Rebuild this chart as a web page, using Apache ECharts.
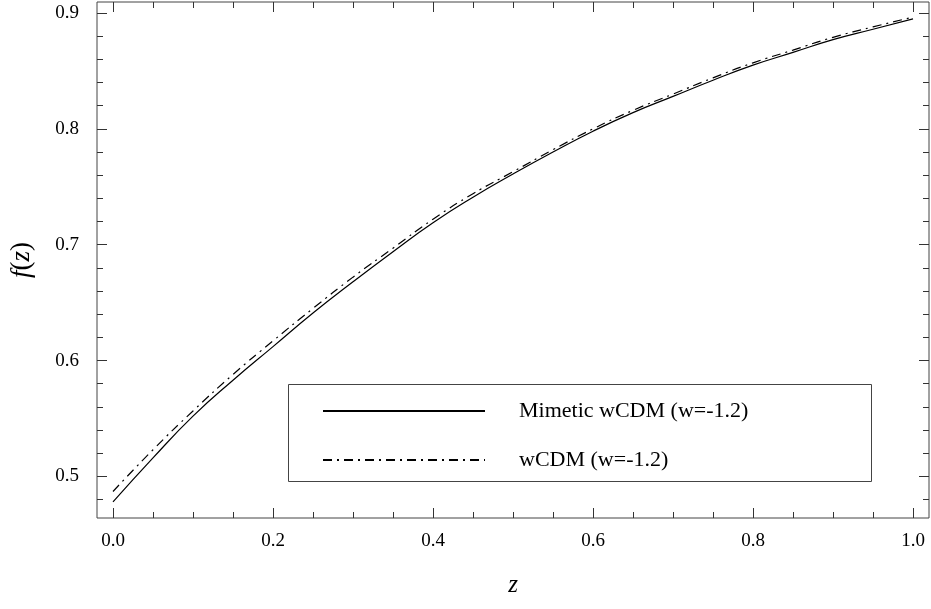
<!DOCTYPE html>
<html>
<head>
<meta charset="utf-8">
<script src="https://cdn.jsdelivr.net/npm/echarts@6/dist/echarts.min.js"></script>
<style>html,body{margin:0;padding:0;background:#fff}#c{width:931px;height:609px}</style>
</head>
<body>
<div id="c"></div>
<script>
var zValues = [0, 0.05, 0.1, 0.15, 0.2, 0.25, 0.3, 0.35, 0.4, 0.45, 0.5, 0.55, 0.6, 0.65, 0.7, 0.75, 0.8, 0.85, 0.9, 0.95, 1.0];
var mimeticValues = [0.478, 0.516, 0.552, 0.583, 0.612, 0.641, 0.668, 0.694, 0.719, 0.741, 0.761, 0.780, 0.798, 0.814, 0.828, 0.842, 0.855, 0.866, 0.877, 0.886, 0.895];
var wcdmValues = [0.487, 0.523, 0.5565, 0.588, 0.617, 0.645, 0.672, 0.697, 0.722, 0.744, 0.763, 0.782, 0.800, 0.816, 0.830, 0.844, 0.857, 0.868, 0.879, 0.888, 0.8965];
var xMajorTicks = [0, 0.2, 0.4, 0.6, 0.8, 1.0];
var xMinorTicks = [0.05, 0.1, 0.15, 0.25, 0.3, 0.35, 0.45, 0.5, 0.55, 0.65, 0.7, 0.75, 0.85, 0.9, 0.95];
var yMajorTicks = [0.5, 0.6, 0.7, 0.8, 0.9];
var yMinorTicks = [0.48, 0.52, 0.54, 0.56, 0.58, 0.62, 0.64, 0.66, 0.68, 0.72, 0.74, 0.76, 0.78, 0.82, 0.84, 0.86, 0.88];
var seriesNames = ['Mimetic wCDM (w=-1.2)', 'wCDM (w=-1.2)'];

function pairs(xs, ys){ return xs.map(function(x,i){ return [x, ys[i]]; }); }

var FONT = '"Liberation Serif", "DejaVu Serif", serif';
var xMin = -0.02, xMax = 1.02, yMin = 0.4641, yMax = 0.9095;
var tickColor = '#333';

function xAxisDef(pos, ticks, len, labels) {
  return {
    type: 'value', position: pos, min: xMin, max: xMax,
    axisLine: { show: false, onZero: false },
    splitLine: { show: false },
    axisTick: { show: true, inside: true, length: len, customValues: ticks, lineStyle: { color: tickColor, width: 1 } },
    axisLabel: labels ? { show: true, customValues: ticks, margin: 14, fontFamily: FONT, fontSize: 19, color: '#000',
      formatter: function(v){ return v.toFixed(1); } } : { show: false }
  };
}
function yAxisDef(pos, ticks, len, labels) {
  return {
    type: 'value', position: pos, min: yMin, max: yMax,
    axisLine: { show: false, onZero: false },
    splitLine: { show: false },
    axisTick: { show: true, inside: true, length: len, customValues: ticks, lineStyle: { color: tickColor, width: 1 } },
    axisLabel: labels ? { show: true, customValues: ticks, margin: 18, fontFamily: FONT, fontSize: 19, color: '#000',
      formatter: function(v){ return v.toFixed(1); } } : { show: false }
  };
}

var xAxes = [
  xAxisDef('bottom', xMajorTicks, 10, true),
  xAxisDef('bottom', xMinorTicks, 6, false),
  xAxisDef('top', xMajorTicks, 10, false),
  xAxisDef('top', xMinorTicks, 6, false)
];
xAxes[0].name = 'z';
xAxes[0].nameLocation = 'middle';
xAxes[0].nameGap = 55;
xAxes[0].nameTextStyle = { fontFamily: FONT, fontSize: 25, fontStyle: 'italic', color: '#000' };

var yAxes = [
  yAxisDef('left', yMajorTicks, 10, true),
  yAxisDef('left', yMinorTicks, 6, false),
  yAxisDef('right', yMajorTicks, 10, false),
  yAxisDef('right', yMinorTicks, 6, false)
];
yAxes[0].name = '{i|f}{n|(}{i|z}{n|)}';
yAxes[0].nameLocation = 'middle';
yAxes[0].nameGap = 62;
yAxes[0].nameTextStyle = { color: '#000', rich: {
  i: { fontFamily: FONT, fontSize: 27, fontStyle: 'italic', color: '#000' },
  n: { fontFamily: FONT, fontSize: 27, color: '#000' }
}};

var chart = echarts.init(document.getElementById('c'), null, { renderer: 'canvas' });
chart.setOption({
  animation: false,
  backgroundColor: '#fff',
  grid: { left: 93, right: 2, top: 2, bottom: 91, show: true, borderColor: '#444', borderWidth: 1, backgroundColor: 'transparent' },
  xAxis: xAxes,
  yAxis: yAxes,
  graphic: [
    { type: 'rect', left: 288, top: 384, shape: { width: 583, height: 97 }, style: { fill: '#fff', stroke: '#444', lineWidth: 1 }, z: 5 }
  ],
  legend: {
    orient: 'vertical', left: 322, top: 400,
    padding: 0,
    itemWidth: 162, itemHeight: 20, itemGap: 27,
    selectedMode: false,
    z: 10,
    itemStyle: { color: 'transparent', borderColor: 'transparent', borderWidth: 0, opacity: 0 },
    textStyle: { fontFamily: FONT, fontSize: 22, color: '#000', lineHeight: 20, padding: [0, 0, 0, 29] },
    data: seriesNames
  },
  series: [
    { name: seriesNames[0], type: 'line', xAxisIndex: 0, yAxisIndex: 0, data: pairs(zValues, mimeticValues),
      smooth: true, showSymbol: false, symbol: 'none', lineStyle: { color: '#000', width: 1.2, type: 'solid' }, itemStyle: { color: '#000' } },
    { name: seriesNames[1], type: 'line', xAxisIndex: 0, yAxisIndex: 0, data: pairs(zValues, wcdmValues),
      smooth: true, showSymbol: false, symbol: 'none', lineStyle: { color: '#000', width: 1.2, type: [9, 5, 2, 5] }, itemStyle: { color: '#000' } }
  ]
});
</script>
</body>
</html>
